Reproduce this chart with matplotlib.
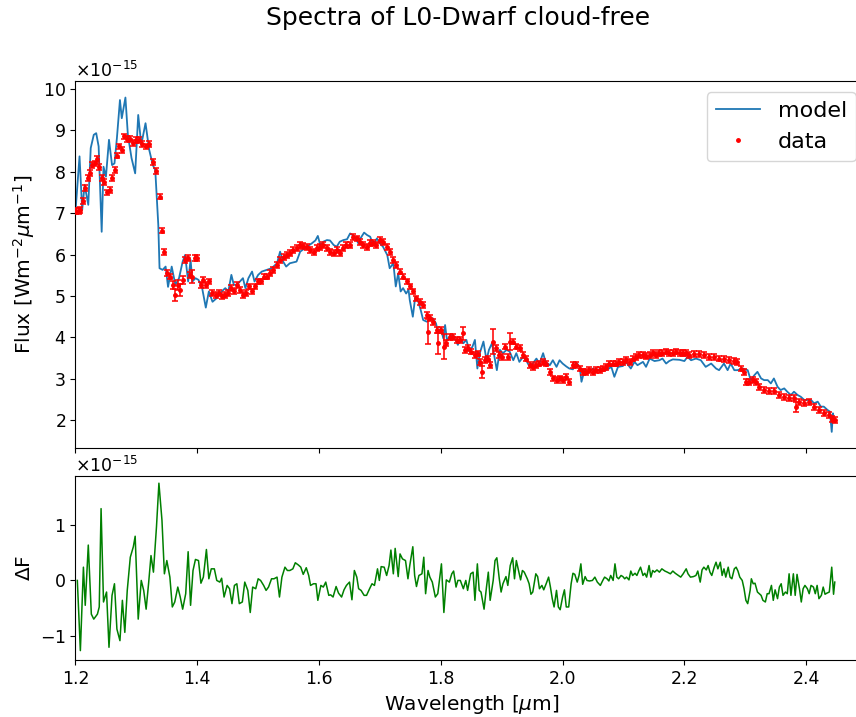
import matplotlib
matplotlib.use("Agg")
import matplotlib.pyplot as plt

# model spectrum (flux in 1e-15 W m^-2 um^-1)
model_wl = [1.200, 1.2066, 1.211, 1.215, 1.221, 1.225, 1.230, 1.234, 1.238, 1.243, 1.246, 1.250,
            1.255, 1.260, 1.264, 1.268, 1.273, 1.276, 1.282, 1.286, 1.292, 1.298, 1.303, 1.308,
            1.315, 1.321, 1.327, 1.331, 1.336, 1.338, 1.343, 1.348, 1.352, 1.358, 1.364, 1.370,
            1.376, 1.380, 1.385, 1.389, 1.392, 1.397, 1.402, 1.408, 1.414, 1.419, 1.425, 1.432,
            1.440, 1.446, 1.451, 1.456, 1.460, 1.465, 1.470, 1.475, 1.479, 1.484, 1.490, 1.494,
            1.500, 1.506, 1.514, 1.522, 1.531, 1.536, 1.541, 1.546, 1.552, 1.563, 1.569, 1.580,
            1.588, 1.594, 1.598, 1.602, 1.607, 1.613, 1.618, 1.624, 1.629, 1.634, 1.640, 1.646,
            1.651, 1.655, 1.660, 1.665, 1.668, 1.674, 1.679, 1.684, 1.689, 1.695, 1.700, 1.705,
            1.712, 1.716, 1.722, 1.726, 1.730, 1.734, 1.738, 1.743, 1.747, 1.749, 1.754, 1.758,
            1.763, 1.767, 1.771, 1.777, 1.782, 1.787, 1.792, 1.796, 1.800, 1.804, 1.807, 1.810,
            1.815, 1.819, 1.824, 1.828, 1.832, 1.837, 1.842, 1.847, 1.852, 1.856, 1.860, 1.864,
            1.870, 1.875, 1.879, 1.884, 1.888, 1.892, 1.897, 1.902, 1.908, 1.913, 1.919, 1.924,
            1.929, 1.935, 1.940, 1.946, 1.951, 1.957, 1.962, 1.968, 1.972, 1.979, 1.984, 1.990,
            1.995, 2.000, 2.006, 2.011, 2.017, 2.022, 2.028, 2.031, 2.036, 2.041, 2.050, 2.055,
            2.063, 2.072, 2.080, 2.085, 2.091, 2.099, 2.104, 2.112, 2.118, 2.123, 2.132, 2.137,
            2.143, 2.151, 2.159, 2.164, 2.170, 2.175, 2.181, 2.192, 2.200, 2.205, 2.211, 2.219,
            2.227, 2.235, 2.244, 2.252, 2.257, 2.265, 2.271, 2.276, 2.282, 2.287, 2.296, 2.304,
            2.309, 2.315, 2.320, 2.326, 2.331, 2.337, 2.342, 2.347, 2.353, 2.358, 2.364, 2.369,
            2.375, 2.380, 2.386, 2.391, 2.397, 2.402, 2.408, 2.413, 2.419, 2.424, 2.429, 2.435,
            2.439, 2.442, 2.444, 2.446]
model_flux = [7.04, 8.37, 7.08, 7.68, 7.20, 8.57, 8.89, 8.93, 8.61, 6.55, 8.12, 7.88,
              8.77, 8.16, 8.20, 8.81, 9.73, 9.29, 9.79, 8.89, 8.33, 7.96, 9.37, 8.65,
              9.17, 8.53, 8.16, 8.04, 6.71, 5.67, 5.63, 5.71, 5.22, 5.71, 5.27, 5.43,
              5.83, 5.99, 5.35, 5.87, 5.35, 5.43, 5.39, 5.19, 4.72, 5.11, 4.86, 4.95,
              5.11, 5.19, 5.11, 5.51, 5.27, 5.27, 5.35, 5.43, 5.19, 5.43, 5.59, 5.35,
              5.51, 5.59, 5.63, 5.67, 5.79, 6.07, 5.83, 5.71, 5.79, 5.83, 6.07, 6.19,
              6.27, 6.34, 6.45, 6.23, 6.31, 6.35, 6.34, 6.23, 6.19, 6.31, 6.35, 6.37,
              6.51, 6.47, 6.39, 6.26, 6.39, 6.53, 6.47, 6.43, 6.23, 6.39, 6.27, 6.19,
              5.99, 5.67, 5.79, 5.23, 5.55, 5.11, 5.19, 5.06, 5.15, 4.90, 4.50, 4.98,
              4.86, 4.66, 4.42, 4.38, 4.42, 4.46, 4.34, 4.10, 4.22, 3.98, 4.30, 3.94,
              4.02, 4.06, 3.94, 3.82, 3.98, 3.86, 3.94, 3.66, 3.78, 3.94, 3.25, 3.62,
              3.90, 3.45, 3.70, 3.86, 3.53, 3.21, 3.70, 3.62, 3.70, 3.66, 3.45, 3.62,
              3.41, 3.53, 3.45, 3.29, 3.37, 3.49, 3.37, 3.62, 3.41, 3.33, 3.45, 3.29,
              3.45, 3.37, 3.30, 3.25, 3.23, 3.40, 3.29, 2.93, 3.21, 3.13, 3.25, 3.19,
              3.25, 3.21, 3.29, 3.05, 3.29, 3.31, 3.41, 3.25, 3.41, 3.33, 3.41, 3.29,
              3.49, 3.43, 3.45, 3.49, 3.37, 3.43, 3.47, 3.46, 3.43, 3.53, 3.45, 3.49,
              3.45, 3.29, 3.37, 3.25, 3.21, 3.37, 3.21, 3.37, 3.21, 3.21, 3.25, 3.21,
              2.97, 3.09, 3.17, 3.01, 2.97, 2.97, 2.89, 3.01, 2.81, 2.73, 2.77, 2.69,
              2.61, 2.69, 2.61, 2.57, 2.49, 2.49, 2.49, 2.41, 2.45, 2.33, 2.33, 2.25,
              2.21, 1.72, 2.17, 2.00]

# observed data
data_wl = [1.201, 1.205, 1.208, 1.212, 1.216, 1.220, 1.223, 1.227, 1.232, 1.235, 1.238, 1.243,
           1.247, 1.252, 1.256, 1.260, 1.265, 1.268, 1.272, 1.277, 1.280, 1.285, 1.290, 1.295,
           1.300, 1.305, 1.310, 1.315, 1.320, 1.328, 1.333, 1.338, 1.342, 1.346, 1.350, 1.355,
           1.360, 1.364, 1.368, 1.372, 1.376, 1.380, 1.385, 1.388, 1.392, 1.397, 1.400, 1.406,
           1.410, 1.415, 1.420, 1.425, 1.430, 1.435, 1.440, 1.445, 1.450, 1.455, 1.460, 1.465,
           1.470, 1.475, 1.480, 1.485, 1.490, 1.495, 1.500, 1.505, 1.510, 1.515, 1.520, 1.525,
           1.531, 1.536, 1.542, 1.547, 1.553, 1.558, 1.563, 1.569, 1.574, 1.580, 1.585, 1.591,
           1.596, 1.602, 1.607, 1.613, 1.618, 1.624, 1.629, 1.634, 1.640, 1.645, 1.651, 1.656,
           1.662, 1.667, 1.673, 1.678, 1.684, 1.689, 1.694, 1.700, 1.705, 1.711, 1.716, 1.722,
           1.727, 1.733, 1.738, 1.744, 1.749, 1.755, 1.760, 1.766, 1.771, 1.777, 1.779, 1.782,
           1.787, 1.793, 1.796, 1.801, 1.805, 1.809, 1.815, 1.820, 1.826, 1.831, 1.836, 1.839,
           1.845, 1.850, 1.856, 1.861, 1.864, 1.868, 1.872, 1.878, 1.881, 1.886, 1.890, 1.896,
           1.900, 1.905, 1.910, 1.914, 1.919, 1.924, 1.930, 1.935, 1.940, 1.946, 1.951, 1.957,
           1.962, 1.968, 1.973, 1.979, 1.984, 1.990, 1.995, 2.000, 2.006, 2.011, 2.017, 2.022,
           2.028, 2.033, 2.039, 2.044, 2.050, 2.055, 2.061, 2.066, 2.072, 2.077, 2.082, 2.088,
           2.093, 2.099, 2.104, 2.110, 2.115, 2.121, 2.126, 2.132, 2.137, 2.143, 2.148, 2.154,
           2.159, 2.164, 2.170, 2.175, 2.181, 2.186, 2.192, 2.197, 2.203, 2.208, 2.216, 2.224,
           2.233, 2.241, 2.249, 2.257, 2.265, 2.274, 2.282, 2.287, 2.293, 2.298, 2.301, 2.306,
           2.312, 2.317, 2.323, 2.331, 2.339, 2.347, 2.356, 2.364, 2.372, 2.380, 2.384, 2.388,
           2.397, 2.405, 2.413, 2.421, 2.429, 2.438, 2.443, 2.447]
data_flux = [7.05, 7.05, 7.08, 7.30, 7.60, 7.84, 7.96, 8.16, 8.20, 8.31, 8.12, 7.84,
             7.76, 7.50, 7.56, 7.84, 8.04, 8.39, 8.61, 8.53, 8.85, 8.79, 8.79, 8.69,
             8.77, 8.77, 8.67, 8.61, 8.67, 8.24, 8.02, 7.40, 6.58, 6.07, 5.55, 5.47,
             5.27, 5.03, 5.27, 5.15, 5.39, 5.87, 5.91, 5.51, 5.47, 5.91, 5.91, 5.27,
             5.39, 5.27, 5.35, 5.07, 5.03, 5.07, 4.99, 5.03, 5.07, 5.19, 5.11, 5.27,
             5.15, 5.03, 5.07, 5.23, 5.11, 5.23, 5.35, 5.35, 5.47, 5.47, 5.55, 5.63,
             5.75, 5.87, 5.95, 5.99, 6.03, 6.11, 6.15, 6.23, 6.21, 6.19, 6.11, 6.07,
             6.15, 6.19, 6.23, 6.15, 6.07, 6.03, 6.11, 6.03, 6.15, 6.23, 6.23, 6.43,
             6.39, 6.31, 6.23, 6.19, 6.27, 6.27, 6.23, 6.35, 6.31, 6.19, 6.07, 5.87,
             5.75, 5.59, 5.47, 5.35, 5.23, 5.11, 4.94, 4.86, 4.78, 4.54, 4.14, 4.46,
             4.38, 4.18, 3.86, 4.18, 3.78, 3.86, 4.02, 4.02, 3.94, 3.94, 4.10, 3.70,
             3.74, 3.66, 3.57, 3.61, 3.41, 3.17, 3.45, 3.49, 3.33, 3.90, 3.74, 3.57,
             3.53, 3.78, 3.53, 3.90, 3.90, 3.78, 3.74, 3.57, 3.49, 3.33, 3.29, 3.33,
             3.37, 3.41, 3.37, 3.17, 3.01, 2.97, 3.01, 2.97, 3.05, 2.93, 3.33, 3.33,
             3.25, 3.17, 3.17, 3.21, 3.17, 3.21, 3.21, 3.25, 3.29, 3.37, 3.37, 3.37,
             3.41, 3.41, 3.45, 3.41, 3.49, 3.53, 3.57, 3.57, 3.55, 3.57, 3.62, 3.57,
             3.62, 3.62, 3.66, 3.63, 3.62, 3.66, 3.62, 3.63, 3.62, 3.57, 3.60, 3.60,
             3.57, 3.53, 3.52, 3.49, 3.47, 3.45, 3.44, 3.41, 3.25, 3.17, 2.93, 2.93,
             2.97, 2.93, 2.81, 2.73, 2.71, 2.71, 2.61, 2.57, 2.53, 2.53, 2.33, 2.45,
             2.41, 2.45, 2.33, 2.25, 2.17, 2.13, 2.04, 2.00]
# error bars: most are small, these ones are larger
big_err = {1.360: 0.10, 1.364: 0.15, 1.368: 0.12, 1.372: 0.15, 1.376: 0.10, 1.392: 0.15,
           1.779: 0.30, 1.796: 0.25, 1.805: 0.30, 1.836: 0.15, 1.868: 0.15, 1.886: 0.30,
           1.914: 0.20, 2.384: 0.12}
data_err = [big_err.get(w, 0.07) for w in data_wl]

# residuals F_data - F_model (1e-15)
res_wl = [1.203, 1.208, 1.213, 1.216, 1.221, 1.226, 1.230, 1.236, 1.239, 1.242, 1.246, 1.251,
          1.255, 1.260, 1.264, 1.268, 1.273, 1.277, 1.281, 1.285, 1.290, 1.295, 1.298, 1.303,
          1.308, 1.312, 1.316, 1.320, 1.324, 1.328, 1.333, 1.337, 1.342, 1.346, 1.350, 1.355,
          1.359, 1.363, 1.368, 1.372, 1.376, 1.381, 1.385, 1.389, 1.393, 1.397, 1.402, 1.406,
          1.410, 1.415, 1.419, 1.423, 1.428, 1.432, 1.437, 1.440, 1.444, 1.449, 1.453, 1.457,
          1.461, 1.465, 1.469, 1.474, 1.478, 1.483, 1.487, 1.491, 1.496, 1.500, 1.504, 1.509,
          1.513, 1.517, 1.522, 1.526, 1.531, 1.535, 1.539, 1.544, 1.548, 1.552, 1.557, 1.561,
          1.566, 1.570, 1.574, 1.579, 1.583, 1.586, 1.591, 1.595, 1.598, 1.603, 1.607, 1.611,
          1.616, 1.619, 1.623, 1.628, 1.632, 1.637, 1.641, 1.645, 1.650, 1.654, 1.658, 1.662,
          1.665, 1.669, 1.674, 1.678, 1.683, 1.687, 1.691, 1.696, 1.699, 1.702, 1.707, 1.711,
          1.715, 1.718, 1.722, 1.725, 1.730, 1.733, 1.737, 1.742, 1.746, 1.749, 1.754, 1.757,
          1.760, 1.764, 1.769, 1.772, 1.775, 1.779, 1.782, 1.786, 1.791, 1.795, 1.801, 1.805,
          1.809, 1.814, 1.818, 1.821, 1.825, 1.828, 1.832, 1.837, 1.841, 1.844, 1.849, 1.853,
          1.856, 1.860, 1.863, 1.866, 1.871, 1.875, 1.878, 1.881, 1.886, 1.889, 1.892, 1.896,
          1.899, 1.902, 1.907, 1.910, 1.914, 1.918, 1.921, 1.924, 1.927, 1.931, 1.934, 1.937,
          1.942, 1.945, 1.948, 1.951, 1.956, 1.959, 1.962, 1.966, 1.969, 1.973, 1.977, 1.980,
          1.983, 1.986, 1.990, 1.993, 1.996, 2.000, 2.003, 2.006, 2.010, 2.014, 2.017, 2.020,
          2.024, 2.027, 2.030, 2.033, 2.037, 2.040, 2.044, 2.049, 2.053, 2.057, 2.062, 2.066,
          2.069, 2.073, 2.076, 2.079, 2.083, 2.086, 2.089, 2.092, 2.096, 2.099, 2.102, 2.105,
          2.109, 2.112, 2.115, 2.119, 2.122, 2.125, 2.128, 2.132, 2.135, 2.138, 2.142, 2.145,
          2.148, 2.151, 2.155, 2.159, 2.163, 2.168, 2.172, 2.177, 2.181, 2.185, 2.190, 2.194,
          2.198, 2.203, 2.206, 2.210, 2.215, 2.219, 2.222, 2.226, 2.229, 2.232, 2.236, 2.239,
          2.242, 2.245, 2.249, 2.252, 2.255, 2.259, 2.262, 2.265, 2.268, 2.272, 2.275, 2.278,
          2.282, 2.285, 2.288, 2.291, 2.295, 2.298, 2.301, 2.304, 2.308, 2.310, 2.313, 2.316,
          2.320, 2.323, 2.326, 2.329, 2.333, 2.336, 2.339, 2.343, 2.346, 2.349, 2.353, 2.356,
          2.359, 2.362, 2.366, 2.369, 2.372, 2.375, 2.379, 2.382, 2.385, 2.389, 2.392, 2.395,
          2.398, 2.402, 2.405, 2.408, 2.412, 2.415, 2.418, 2.421, 2.425, 2.428, 2.431, 2.434,
          2.438, 2.442, 2.445, 2.447]
res_val = [0.00, -1.27, 0.24, -0.45, 0.64, -0.61, -0.70, -0.61, -0.48, 1.30, -0.39, -0.21,
           -1.21, -0.27, -0.06, -0.88, -1.09, -0.36, -0.94, -0.18, 0.42, 0.61, 0.80, -0.70,
           0.00, -0.18, -0.52, -0.06, 0.45, 0.15, 0.97, 1.76, 1.09, 0.12, 0.36, 0.06,
           -0.48, -0.39, -0.12, -0.30, -0.52, -0.24, 0.52, -0.45, 0.18, 0.38, 0.36, -0.05,
           0.06, 0.56, 0.03, 0.21, 0.21, 0.00, -0.03, 0.04, -0.30, -0.09, -0.15, -0.42,
           -0.09, -0.06, -0.42, -0.39, -0.03, -0.18, -0.58, -0.12, -0.15, 0.03, 0.00, -0.09,
           -0.18, -0.12, 0.03, 0.03, 0.06, -0.30, 0.06, 0.24, 0.18, 0.18, 0.21, 0.32,
           0.28, 0.24, 0.11, 0.23, 0.09, -0.09, -0.06, -0.06, -0.36, -0.09, -0.12, -0.03,
           -0.27, -0.26, -0.30, -0.11, -0.23, -0.30, -0.17, -0.09, -0.03, -0.35, 0.18, 0.06,
           -0.15, -0.18, -0.27, -0.27, -0.15, -0.06, -0.09, 0.21, 0.00, 0.25, 0.24, 0.09,
           0.27, 0.55, 0.12, 0.58, 0.07, 0.48, 0.39, 0.36, 0.03, 0.27, 0.61, 0.09,
           -0.11, 0.09, 0.12, 0.42, -0.24, 0.18, 0.06, -0.03, -0.30, -0.24, 0.30, -0.58,
           0.01, -0.03, 0.12, 0.17, -0.12, 0.00, 0.00, -0.15, 0.00, -0.18, 0.12, 0.15,
           -0.36, 0.30, -0.18, -0.21, -0.52, -0.12, 0.15, -0.36, 0.00, 0.36, 0.41, 0.03,
           -0.21, -0.06, 0.07, -0.09, 0.27, 0.41, 0.03, 0.36, 0.21, 0.01, 0.18, 0.15,
           0.03, -0.06, -0.25, -0.21, 0.12, 0.07, -0.15, -0.09, -0.17, -0.06, 0.06, -0.12,
           -0.33, -0.48, -0.18, -0.48, -0.53, -0.30, -0.17, -0.48, -0.48, -0.06, 0.13, 0.11,
           -0.03, 0.09, 0.30, -0.07, 0.07, 0.00, -0.01, 0.00, 0.06, -0.03, -0.09, 0.00,
           0.06, 0.03, -0.01, 0.09, 0.00, 0.30, 0.06, 0.03, 0.09, 0.07, 0.03, 0.06,
           0.01, 0.17, 0.09, 0.13, 0.09, 0.17, 0.24, 0.09, 0.13, 0.06, 0.27, 0.06,
           0.18, 0.15, 0.19, 0.15, 0.21, 0.17, 0.15, 0.12, 0.17, 0.13, 0.09, 0.06,
           0.12, 0.21, 0.12, 0.06, 0.07, 0.09, 0.17, -0.03, 0.19, 0.24, 0.19, 0.27,
           0.15, 0.09, 0.24, 0.33, 0.21, 0.33, 0.09, 0.21, 0.06, 0.24, 0.06, 0.03,
           0.21, 0.24, 0.17, 0.06, 0.00, -0.15, -0.36, -0.42, -0.18, 0.03, -0.06, -0.05,
           -0.21, -0.24, -0.27, -0.36, -0.39, -0.24, -0.24, -0.09, -0.36, -0.17, -0.33, -0.12,
           -0.06, -0.27, -0.21, -0.24, 0.12, -0.27, 0.12, -0.27, 0.11, -0.15, -0.39, -0.15,
           -0.09, -0.15, -0.24, -0.09, -0.12, -0.24, -0.09, -0.33, -0.27, -0.12, -0.25, -0.23,
           -0.21, 0.24, -0.25, -0.03]

scale = 1e-15

fig = plt.figure(figsize=(8.56, 7.17), dpi=100)
ax1 = fig.add_axes([0.0882, 0.3745, 0.9247, 0.5126])
ax2 = fig.add_axes([0.0882, 0.0795, 0.9247, 0.2566], sharex=ax1)

# top panel: model and data
ax1.plot(model_wl, [f * scale for f in model_flux], color='#1f77b4', lw=1.3, label='model')
ax1.errorbar(data_wl, [f * scale for f in data_flux], yerr=[e * scale for e in data_err],
             fmt='none', ecolor='r', elinewidth=1.4, capsize=2.5, capthick=1.4,
             alpha=0.8, zorder=3)
ax1.plot(data_wl, [f * scale for f in data_flux], 'r.', ms=5, label='data', zorder=4)
ax1.set_ylim(1.32e-15, 10.19e-15)
ax1.set_ylabel(r'Flux [Wm$^{-2}\mu$m$^{-1}$]', fontsize=14.5)
ax1.legend(loc='upper right', fontsize=16)
ax1.tick_params(labelbottom=False, labelsize=12.5)
# fix the exponent at 1e-15 like the original
ax1.ticklabel_format(axis='y', style='sci', scilimits=(-15, -15), useMathText=True)
ax1.yaxis.get_offset_text().set_fontsize(12.5)

# bottom panel: residuals
ax2.plot(res_wl, [r * scale for r in res_val], color='g', lw=1.1)
ax2.set_ylim(-1.44e-15, 1.89e-15)
ax2.set_xlim(1.2, 2.5)
ax2.set_ylabel(r'$\Delta$F', fontsize=14.5)
ax2.set_xlabel(r'Wavelength [$\mu$m]', fontsize=14.5)
ax2.tick_params(labelsize=12.5)
ax2.ticklabel_format(axis='y', style='sci', scilimits=(-15, -15), useMathText=True)
ax2.yaxis.get_offset_text().set_fontsize(12.5)

fig.text(0.535, 0.965, 'Spectra of L0-Dwarf cloud-free', ha='center', va='baseline', fontsize=18)

plt.savefig('out.png', dpi=100)
